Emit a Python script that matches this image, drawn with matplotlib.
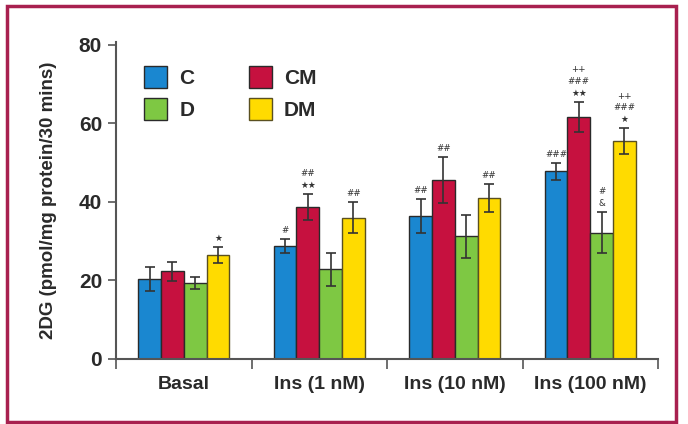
import matplotlib
matplotlib.use("Agg")
import matplotlib.pyplot as plt
from matplotlib.patches import Rectangle, Patch
import numpy as np

groups = ["Basal", "Ins (1 nM)", "Ins (10 nM)", "Ins (100 nM)"]
series = ["C", "CM", "D", "DM"]
colors = ["#1a87d0", "#c6113f", "#7ec843", "#ffdb00"]
edges = ["#2a2a2a", "#2a2a2a", "#2a2a2a", "#5a5020"]

C_vals = [20.4, 28.8, 36.4, 47.8]
CM_vals = [22.3, 38.8, 45.6, 61.6]
D_vals = [19.4, 22.8, 31.2, 32.2]
DM_vals = [26.5, 36.0, 41.0, 55.5]

C_err = [3.1, 1.8, 4.4, 2.1]
CM_err = [2.4, 3.3, 5.8, 3.9]
D_err = [1.5, 4.3, 5.5, 5.3]
DM_err = [2.0, 3.9, 3.6, 3.3]

C_ann = ["", "#", "##", "###"]
CM_ann = ["", "##\n★★", "##", "++\n###\n★★"]
D_ann = ["", "", "", "#\n&"]
DM_ann = ["★", "##", "##", "++\n###\n★"]

vals = [C_vals, CM_vals, D_vals, DM_vals]
errs = [C_err, CM_err, D_err, DM_err]
anns = [C_ann, CM_ann, D_ann, DM_ann]

plt.rcParams['font.family'] = ['Liberation Sans', 'DejaVu Sans']

fig = plt.figure(figsize=(6.88, 4.24), dpi=100)
ax = fig.add_axes([116/688, 1-359/424, (658-116)/688, (359-41.7)/424])

w = 0.168
x = np.arange(len(groups)) + 0.5
for i, (v, e, a) in enumerate(zip(vals, errs, anns)):
    pos = x + (i - 1.5) * w
    ax.bar(pos, v, width=w, color=colors[i], edgecolor=edges[i], linewidth=1.0, zorder=2)
    ax.errorbar(pos, v, yerr=e, fmt='none', ecolor='#333333', elinewidth=1.2,
                capsize=3.5, capthick=1.2, zorder=3)
    for p, vv, ee, t in zip(pos, v, e, a):
        if t:
            ax.text(p, vv + ee + 1.0, t, ha='center', va='bottom', fontsize=6.3,
                    color='#333333', linespacing=1.4, family=['DejaVu Sans'])

ax.set_xlim(0, 4)
ax.set_ylim(0, 80.8)
ax.set_yticks([0, 20, 40, 60, 80])
ax.set_xticks([0, 1, 2, 3, 4], minor=False)
ax.set_xticklabels([])
ax.set_xticks(x, minor=True)
ax.set_xticklabels(groups, minor=True, fontsize=14, fontweight='bold', color='#2a2a2a')
ax.tick_params(axis='x', which='minor', length=0, pad=12)
ax.tick_params(axis='x', which='major', length=7, width=1.2, color='#555555', direction='out')
ax.tick_params(axis='y', length=6, width=1.2, color='#555555', direction='out',
               labelsize=15, labelcolor='#2a2a2a', pad=4)
for lab in ax.get_yticklabels():
    lab.set_fontweight('bold')
for s in ['top', 'right']:
    ax.spines[s].set_visible(False)
for s in ['left', 'bottom']:
    ax.spines[s].set_color('#555555')
    ax.spines[s].set_linewidth(1.5)
ax.set_ylabel("2DG (pmol/mg protein/30 mins)", fontsize=13.5, fontweight='bold',
              color='#2a2a2a', labelpad=16)

handles = [Patch(facecolor=colors[i], edgecolor=edges[i], linewidth=1.0) for i in [0, 2, 1, 3]]
labels = [series[i] for i in [0, 2, 1, 3]]
leg = ax.legend(handles, labels, ncol=2, loc='upper left', bbox_to_anchor=(0.017, 0.984),
                frameon=False, prop={'size': 15, 'weight': 'bold'},
                handlelength=1.1, handleheight=1.3, handletextpad=0.6,
                columnspacing=2.6, labelspacing=0.45)
for t in leg.get_texts():
    t.set_color('#2a2a2a')

frame = Rectangle((7/688, 1-422/424), (676-7)/688, (422-6)/424, transform=fig.transFigure,
                  fill=False, edgecolor='#a8204f', linewidth=2.5)
fig.patches.append(frame)

fig.savefig("out.png", dpi=100)
